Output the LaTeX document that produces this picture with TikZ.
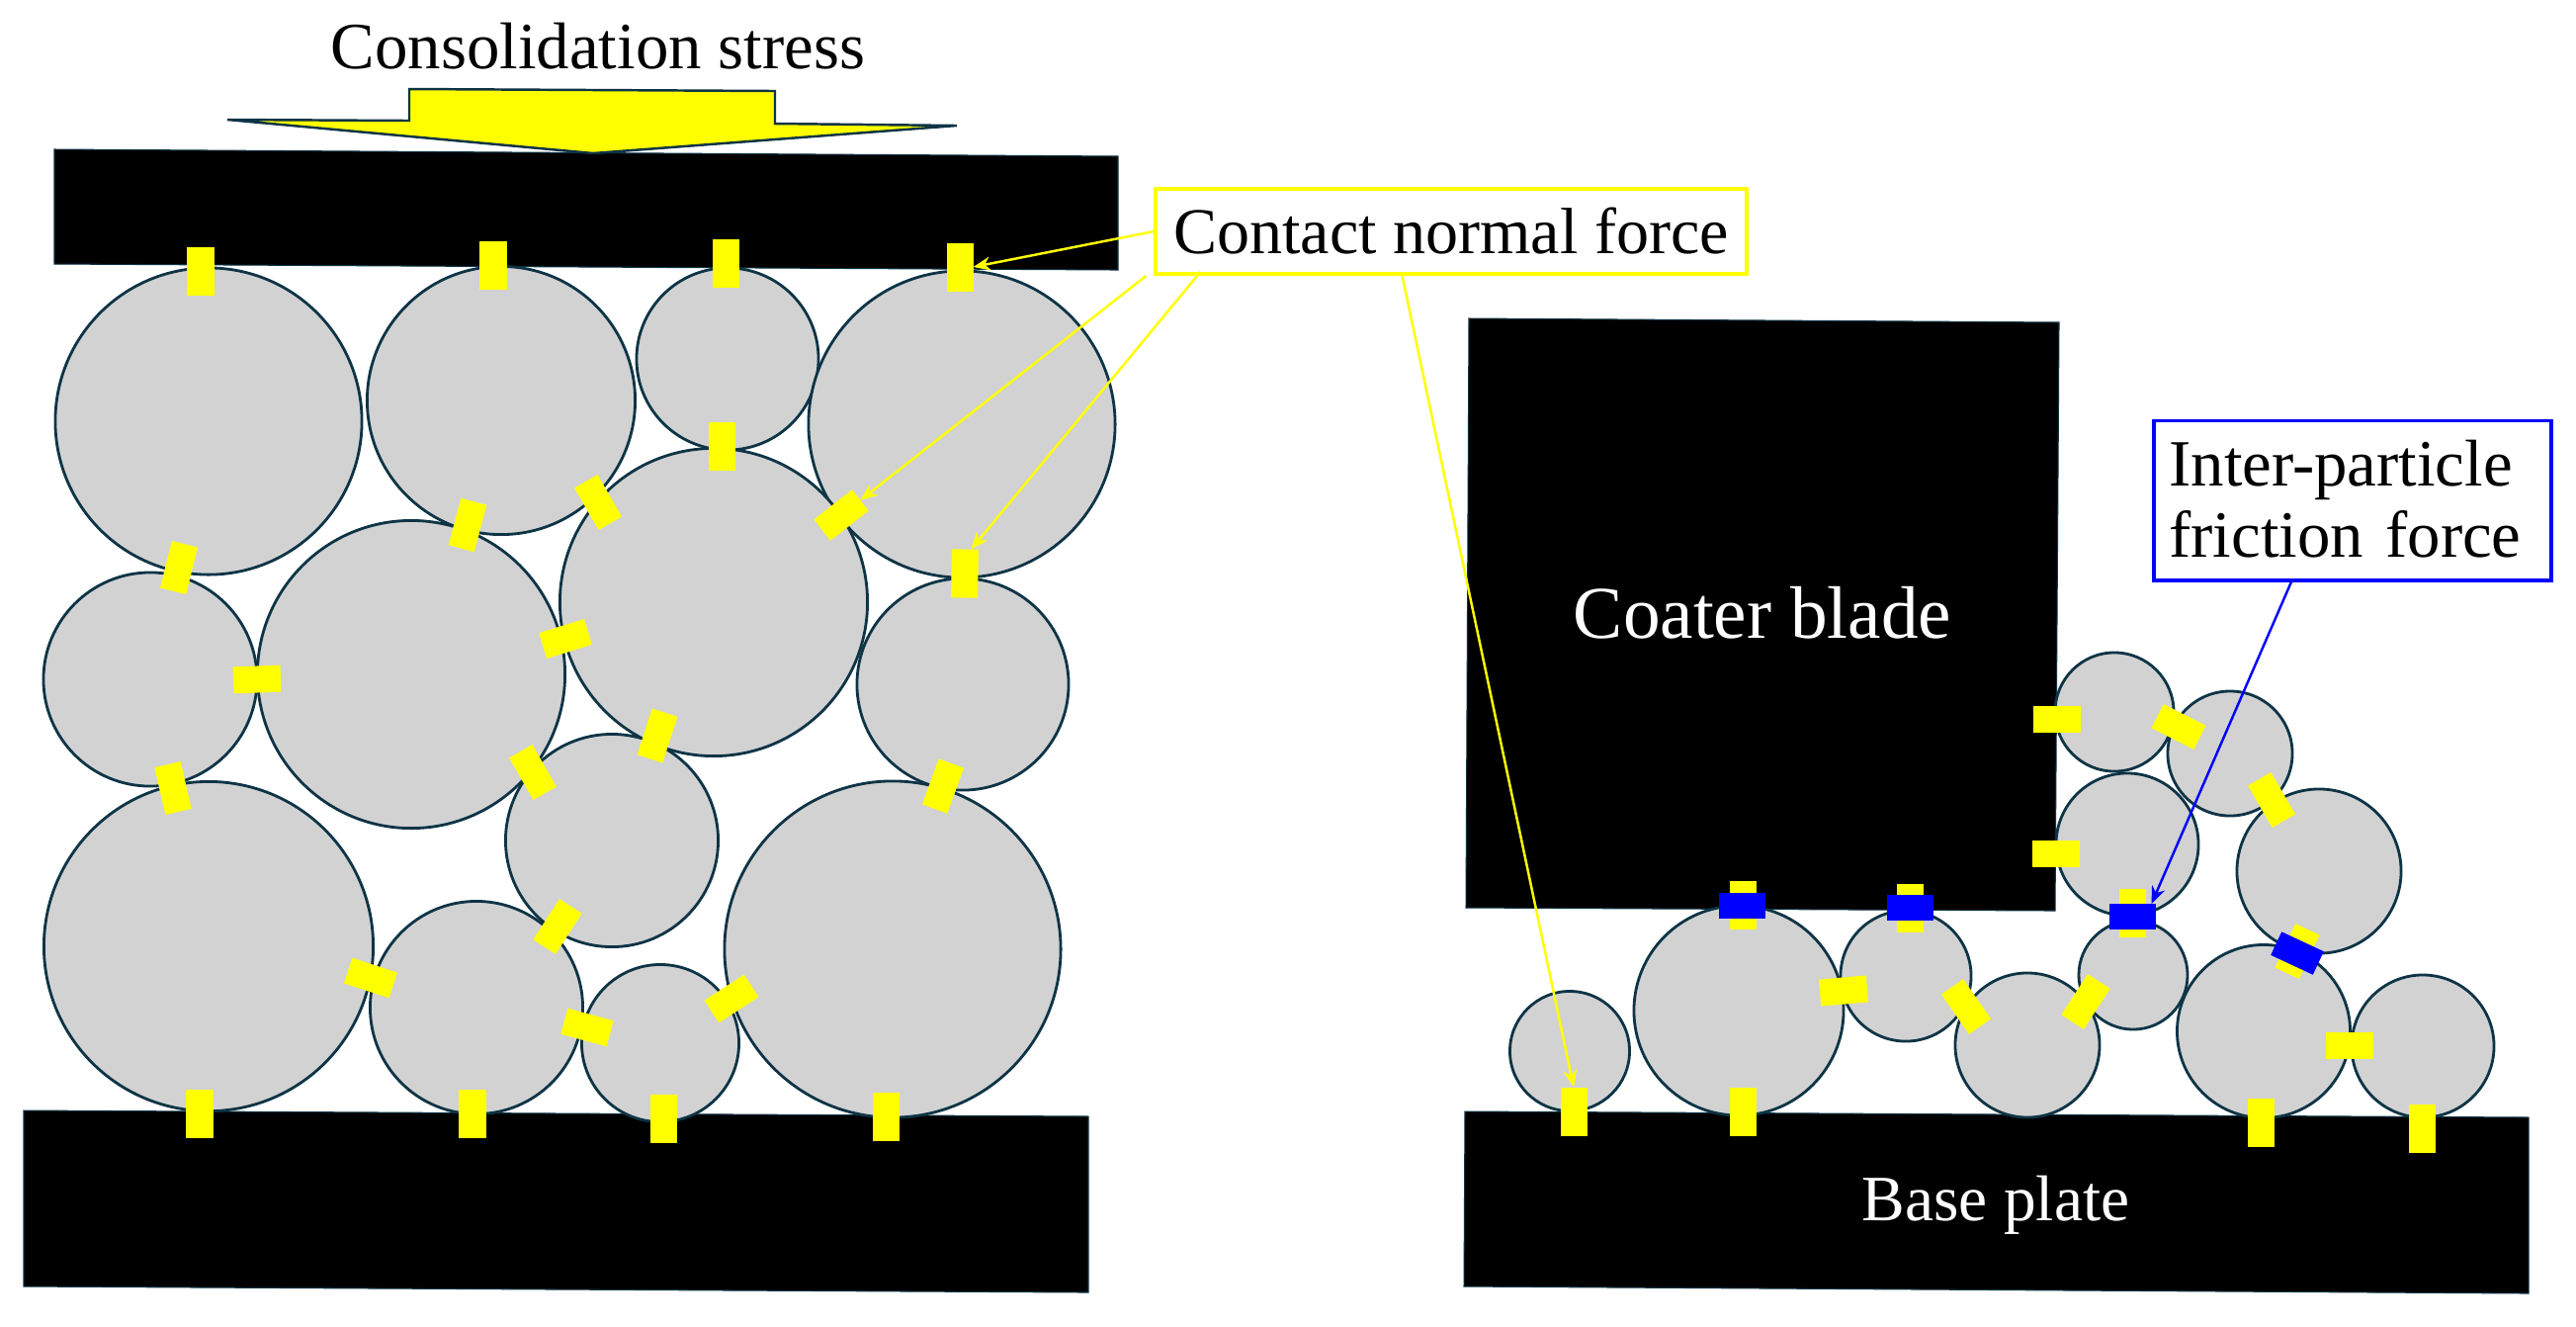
\documentclass[tikz,border=0pt]{standalone}
\usepackage{fontspec}
\setmainfont{Liberation Serif}
\usetikzlibrary{arrows.meta}
\definecolor{edgeteal}{RGB}{14,52,70}
\definecolor{ptclgrey}{RGB}{210,210,210}
\definecolor{forceyellow}{RGB}{255,255,0}
\definecolor{forceblue}{RGB}{0,0,255}
\tikzset{
  plate/.style={fill=black,draw=edgeteal,line width=0.3pt},
  ptcl/.style={circle,draw=edgeteal,fill=ptclgrey,line width=0.8pt,inner sep=0pt,outer sep=0pt},
  nforce/.style={rectangle,fill=forceyellow,inner sep=0pt,outer sep=0pt,minimum width=0.27cm,minimum height=0.49cm},
  hforce/.style={rectangle,fill=forceyellow,inner sep=0pt,outer sep=0pt,minimum width=0.48cm,minimum height=0.27cm},
  bforce/.style={rectangle,fill=forceblue,inner sep=0pt,outer sep=0pt,minimum width=0.47cm,minimum height=0.26cm},
  lbl/.style={inner sep=0pt,font=\fontsize{19}{20.7}\selectfont},
  ylink/.style={draw=forceyellow,line width=0.7pt,-{Stealth[length=5pt,width=4pt]}},
  blink/.style={draw=forceblue,line width=0.7pt,-{Stealth[length=5pt,width=4pt]}}
}
\begin{document}
\begin{tikzpicture}[x=0.01cm,y=-0.01cm]
\useasboundingbox (0,0) rectangle (2606,1341);
% plates and blade
\path[plate] (55,151) -- (1131,158) -- (1131,273) -- (55,267) -- cycle;
\path[plate] (24,1123) -- (1101,1129) -- (1101,1307) -- (24,1301) -- cycle;
\path[plate] (1486,322) -- (2083,326) -- (2079,921) -- (1483,918) -- cycle;
\path[plate] (1482,1124) -- (2558,1130) -- (2558,1308) -- (1481,1301) -- cycle;
% load arrow
\draw[edgeteal,line width=0.7pt,fill=forceyellow,line join=miter] (414,90) -- (784,92) -- (784,125) -- (968,127) -- (600,155) -- (230,121) -- (414,122) -- cycle;
% left particles
\node[ptcl,minimum size=3.10cm] (c1) at (211,426) {};
\node[ptcl,minimum size=2.71cm] (c2) at (507,405) {};
\node[ptcl,minimum size=1.84cm] (c3) at (736,363) {};
\node[ptcl,minimum size=3.10cm] (c4) at (973,429) {};
\node[ptcl,minimum size=2.16cm] (c5) at (152,687) {};
\node[ptcl,minimum size=3.11cm] (c6) at (416,682) {};
\node[ptcl,minimum size=3.11cm] (c7) at (722,609) {};
\node[ptcl,minimum size=2.14cm] (c8) at (974,692) {};
\node[ptcl,minimum size=3.33cm] (c9) at (211,957) {};
\node[ptcl,minimum size=2.15cm] (c10) at (619,850) {};
\node[ptcl,minimum size=2.15cm] (c11) at (482,1019) {};
\node[ptcl,minimum size=1.59cm] (c12) at (668,1055) {};
\node[ptcl,minimum size=3.40cm] (c13) at (903,960) {};
% right particles
\node[ptcl,minimum size=1.21cm] (r1) at (1588,1063) {};
\node[ptcl,minimum size=2.12cm] (r2) at (1759,1022) {};
\node[ptcl,minimum size=1.32cm] (r3) at (1928,987) {};
\node[ptcl,minimum size=1.46cm] (r4) at (2051,1057) {};
\node[ptcl,minimum size=1.10cm] (r5) at (2158,986) {};
\node[ptcl,minimum size=1.75cm] (r6) at (2290,1043) {};
\node[ptcl,minimum size=1.44cm] (r7) at (2451,1058) {};
\node[ptcl,minimum size=1.66cm] (r8) at (2346,881) {};
\node[ptcl,minimum size=1.44cm] (r9) at (2152,854) {};
\node[ptcl,minimum size=1.20cm] (r10) at (2139,720) {};
\node[ptcl,minimum size=1.26cm] (r11) at (2256,762) {};
% left forces
\node[nforce] (f1) at (203,274) {};
\node[nforce] (f2) at (499,268) {};
\node[nforce] (f3) at (734,266) {};
\node[nforce] (f4) at (971,270) {};
\node[nforce] (f5) at (730,451) {};
\node[nforce,rotate=-14] (f6) at (181,574) {};
\node[nforce,rotate=-15] (f7) at (473,531) {};
\node[nforce,rotate=30] (f8) at (605,508) {};
\node[nforce,rotate=-52] (f9) at (851,521) {};
\node[nforce,rotate=-1] (f10) at (976,580) {};
\node[hforce,rotate=2] (f11) at (260,687) {};
\node[hforce,rotate=17] (f12) at (572,646) {};
\node[nforce,rotate=-18] (f13) at (665,744) {};
\node[nforce,rotate=30] (f14) at (539,781) {};
\node[nforce,rotate=13] (f15) at (175,797) {};
\node[nforce,rotate=-20] (f16) at (954,795) {};
\node[hforce,rotate=-18] (f17) at (375,989) {};
\node[nforce,rotate=-33] (f18) at (564,937) {};
\node[hforce,rotate=33] (f19) at (740,1010) {};
\node[hforce,rotate=-15] (f20) at (594,1039) {};
\node[nforce] (f21) at (202,1126) {};
\node[nforce] (f22) at (478,1126) {};
\node[nforce] (f23) at (671,1131) {};
\node[nforce] (f24) at (896,1129) {};
% right forces
\node[hforce] (g1) at (2081,727) {};
\node[hforce] (g2) at (2080,863) {};
\node[hforce,rotate=-27] (g3) at (2204,735) {};
\node[nforce,rotate=30] (g4) at (2298,809) {};
\node[nforce] (g5) at (1763,915) {};
\node[bforce] (b1) at (1762,916) {};
\node[nforce] (g6) at (1932,918) {};
\node[bforce] (b2) at (1932,918) {};
\node[nforce] (g7) at (2157,923) {};
\node[bforce] (b3) at (2157,927) {};
\node[nforce,rotate=-25] (g8) at (2324,962) {};
\node[bforce,rotate=-25] (b4) at (2324,964) {};
\node[hforce,rotate=5] (g9) at (1865,1002) {};
\node[nforce,rotate=35] (g10) at (1989,1018) {};
\node[nforce,rotate=-33] (g11) at (2110,1013) {};
\node[hforce] (g12) at (2377,1057) {};
\node[nforce] (g13) at (1592,1124) {};
\node[nforce] (g14) at (1763,1124) {};
\node[nforce] (g15) at (2287,1135) {};
\node[nforce] (g16) at (2450,1141) {};
% labels
\node[lbl] (cons) at (605,47) {Consolidation stress};
\node[lbl,draw=forceyellow,line width=1.1pt,fill=white,minimum width=5.97cm,minimum height=0.86cm,font=\fontsize{18.8}{20.7}\selectfont] (cnf) at (1468,234) {Contact normal force\hspace{0.08cm}};
\node[lbl,draw=forceblue,line width=1.1pt,fill=white,align=left,inner xsep=0.15cm,text width=3.71cm,minimum height=1.61cm] (ipf) at (2380,506) {\raisebox{1pt}{Inter-particle}\\\raisebox{1pt}{friction force}};
\node[lbl,text=white,font=\fontsize{21.4}{24}\selectfont] (blade) at (1783,620) {Coater blade};
\node[lbl,text=white,font=\fontsize{18.6}{20}\selectfont] (base) at (2019,1219) {Base plate};
% connectors
\draw[ylink] (cnf.west) -- (f4.east);
\draw[ylink] ([xshift=-0.08cm]cnf.south west) -- (f9.north);
\draw[ylink] ([xshift=0.47cm,yshift=0.04cm]cnf.south west) -- ([xshift=0.06cm]f10.north);
\draw[ylink] ([xshift=2.51cm]cnf.south west) -- (g13.north);
\draw[blink] ([xshift=-0.62cm]ipf.south) -- ([xshift=-0.04cm]b3.north east);
\end{tikzpicture}
\end{document}
